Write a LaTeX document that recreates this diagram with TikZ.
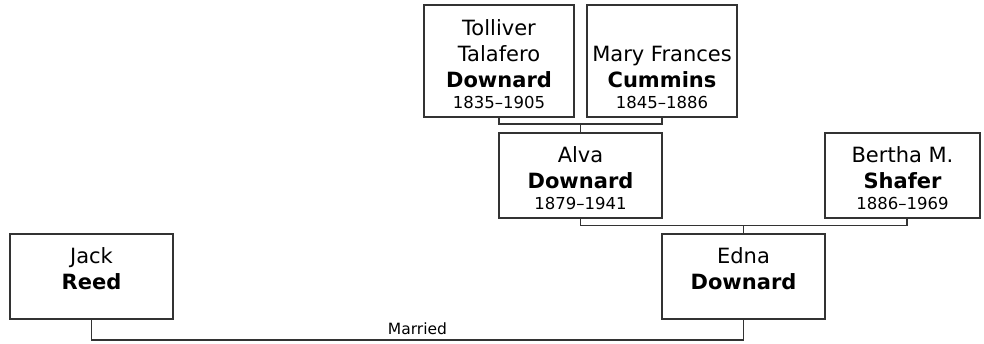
\documentclass[tikz,border=0pt]{standalone}
\usepackage{fontspec}
\setmainfont{DejaVu Sans}
\newcommand{\tp}{\rule{0pt}{22pt}}
\newcommand{\yrs}[1]{\\[-5pt]{\fontsize{16.5}{19}\selectfont #1}}
\tikzset{
  person/.style={draw=black!80, line width=1.2pt, fill=white, align=center,
    inner sep=0pt, outer sep=0pt, minimum width=163pt, minimum height=85pt,
    font=\fontsize{21}{26}\selectfont},
  tall/.style={minimum width=150pt, minimum height=112pt},
  link/.style={draw=black!80, line width=1.2pt}
}

\begin{document}
\begin{tikzpicture}[x=1pt,y=-1pt]
  \useasboundingbox (0,0) rectangle (984,343);
  \node[person,tall] (tolliver) at (499,61) {\tp Tolliver\\Talafero\\\textbf{Downard}\yrs{1835--1905}};
  \node[person,tall] (mary) at (662,61) {\tp\\Mary Frances\\\textbf{Cummins}\yrs{1845--1886}};
  \node[person] (alva) at (580.5,175.5) {\tp Alva\\\textbf{Downard}\yrs{1879--1941}};
  \node[person,minimum width=155pt] (bertha) at (902.5,175.5) {\tp Bertha M.\\\textbf{Shafer}\yrs{1886--1969}};
  \node[person] (jack) at (91.5,276.5) {\tp Jack\\\textbf{Reed}\yrs{\vphantom{0}}};
  \node[person] (edna) at (743.5,276.5) {\tp Edna\\\textbf{Downard}\yrs{\vphantom{0}}};

  \draw[link] (tolliver.south) -- ++(0,7) -| (mary.south);
  \draw[link] (alva.north) -- ++(0,-9);
  \draw[link] (alva.south) -- ++(0,7.5) -| ([xshift=4.5pt]bertha.south);
  \draw[link] (edna.north) -- ++(0,-8.5);
  \draw[link] (jack.south) -- ++(0,21) -| (edna.south)
    node[pos=.25, above=1pt, font=\fontsize{15.5}{18}\selectfont] (married) {Married};
\end{tikzpicture}
\end{document}
